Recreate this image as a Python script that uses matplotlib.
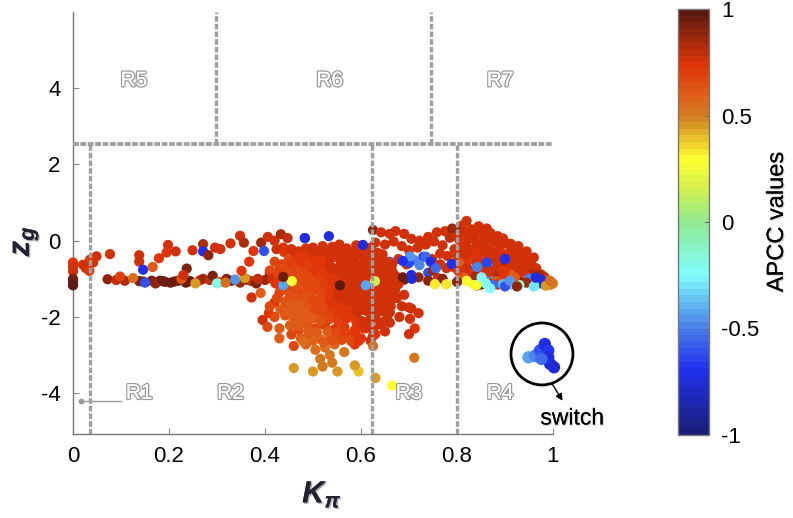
import matplotlib
matplotlib.use("Agg")
import matplotlib.pyplot as plt
import matplotlib.patheffects as pe
from matplotlib.colors import LinearSegmentedColormap, Normalize
from matplotlib.cm import ScalarMappable

plt.rcParams['font.family'] = ['Liberation Sans', 'DejaVu Sans']
plt.rcParams['axes.unicode_minus'] = False
plt.rcParams['mathtext.fontset'] = 'custom'
plt.rcParams['mathtext.bfit'] = 'Liberation Sans:italic:bold'

# left column and the long sparse rows
left_x = [0,0,0,0,0,0, .072,.09,.108,.138,.146,.164,.181,.192,.211,.219,.235,.244,.264,.271,.285,.291,.306,.32,.33,.348,.362,.372,.40,
          .098,.125,.15,.172,.188,.203,.226,.255,.30,.318,.338,.358,.382]
left_y = [-.57,-.68,-.8,-1.0,-1.08,-1.17, -1.01,-1.03,-1.05,-1.06,-1.07,-1.05,-1.05,-1.08,-1.07,-1.05,-1.1,-1.06,-1.04,-1.0,-1.03,-.92,-1.08,-1.0,-1.05,-1.1,-1.02,-1.06,-1.03,
          -.94,-.98,-1.1,-1.12,-1.06,-1.1,-1.0,-1.12,-1.12,-1.1,-1.02,-.98,-1.12]
left_c = [.72,.75,.78,.92,.95,.98, .88,.8,.82,.92,.95,.93,.95,.9,.95,.92,.96,.95,.78,.85,.8,.92,.6,.9,.95,.85,.95,.8,.85,
          .7,.55,-.6,.9,.95,.95,.62,.45,-.2,.55,-.45,.45,.92]

top_x = [.049,.042,.035,.021,.027,.034,.077,.138,.138,.146,.166,.179,.198,.195,.214,.249,.271,.271,.282,.296,.307,.328,.348,.356,.376,.367,.351,.392,.398,.406,.42,.433,.447,.483,.499,.438,.424,.459,.237,.23,.372,.391,.41,.385,.408,.42,.436]
top_y = [-.41,-.57,-.5,-.63,-.72,-.79,-.35,-.38,-.55,-.76,-.69,-.46,-.11,-.31,-.28,-.25,-.09,-.28,-.38,-.18,-.22,-.07,.13,-.05,-.27,-.55,-.79,-.05,-.27,.1,0,.17,.07,.07,-.24,-.18,-.22,-.38,-.73,-.9,-1.49,-1.37,-.85,-1.0,-1.9,-1.62,-1.1]
top_c = [.75,.75,.72,.75,.75,.72,.78,.78,.78,-.7,.62,.72,.78,.72,.75,.78,.82,-.7,.88,.78,.75,.78,.78,.82,.72,.72,.72,.85,-.6,.78,.75,.82,.8,-.75,-.7,.72,.78,.88,.92,.75,.78,.6,.88,.8,.72,.78,.85]

# dense blob around Kpi = 0.55
blob_x = [.44,.455,.47,.485,.50,.52,.54,.555,.57,.59,.605,.62,.635,
          .42,.435,.45,.468,.482,.498,.512,.528,.545,.56,.575,.592,.61,.625,.64,.655,
          .41,.43,.448,.462,.478,.492,.508,.525,.54,.558,.572,.588,.604,.618,.634,.648,.665,
          .415,.44,.455,.472,.488,.503,.518,.535,.55,.566,.582,.598,.614,.63,.645,.66,
          .43,.45,.466,.482,.496,.512,.53,.546,.562,.578,.594,.61,.626,.642,.668,
          .43,.448,.464,.48,.498,.514,.532,.548,.565,.58,.597,.612,.628,.645,.671,.69,.70,
          .425,.445,.46,.478,.495,.51,.528,.544,.56,.578,.594,.61,.63,.648,.668,.685,.705,.72,
          .41,.432,.45,.468,.484,.502,.52,.538,.555,.572,.59,.606,.624,.642,.66,.68,.702,.712,
          .395,.42,.442,.46,.476,.492,.51,.527,.546,.563,.58,.6,.62,.64,.66,.70,
          .405,.43,.452,.47,.49,.506,.525,.545,.565,.586,.61,.63,.65,
          .43,.455,.475,.495,.515,.535,.553,.575,.6,.625,.62,
          .46,.485,.505,.525,.545,.565,.587,.625,.711,
          .46,.50,.515,.535,.551,.595,.587,.63,.665,.54,.52]
blob_y = [-.3,-.22,-.28,-.2,-.18,-.14,-.16,-.1,-.2,-.12,-.22,-.18,-.32,
          -.55,-.62,-.48,-.42,-.5,-.38,-.44,-.36,-.42,-.34,-.46,-.38,-.42,-.5,-.44,-.56,
          -.78,-.72,-.8,-.66,-.74,-.6,-.68,-.58,-.7,-.56,-.66,-.6,-.7,-.62,-.74,-.68,-.8,
          -1.0,-.95,-.88,-.92,-.84,-.9,-.8,-.86,-.92,-.82,-.88,-.8,-.9,-.86,-.98,-.92,
          -1.15,-1.08,-1.12,-1.02,-1.1,-1.0,-1.06,-1.14,-1.02,-1.1,-1.04,-1.12,-1.06,-1.14,-1.18,
          -1.36,-1.28,-1.34,-1.24,-1.32,-1.22,-1.3,-1.2,-1.34,-1.24,-1.3,-1.22,-1.34,-1.28,-1.3,-1.42,-1.75,
          -1.5,-1.58,-1.46,-1.54,-1.44,-1.56,-1.48,-1.58,-1.46,-1.54,-1.44,-1.56,-1.5,-1.6,-1.52,-1.72,-1.78,-1.9,
          -1.72,-1.8,-1.68,-1.76,-1.66,-1.78,-1.7,-1.8,-1.68,-1.76,-1.7,-1.82,-1.72,-1.8,-1.88,-2.0,-2.05,-2.3,
          -2.08,-2.0,-1.96,-2.06,-1.92,-2.02,-1.94,-2.04,-1.96,-2.02,-1.98,-2.1,-2.02,-2.2,-2.15,-2.45,
          -2.26,-2.3,-2.22,-2.34,-2.24,-2.3,-2.22,-2.32,-2.26,-2.36,-2.3,-2.45,-2.38,
          -2.56,-2.46,-2.56,-2.5,-2.58,-2.48,-2.58,-2.52,-2.56,-2.5,-2.62,
          -2.76,-2.72,-2.86,-2.8,-2.72,-2.92,-2.72,-2.76,-3.07,
          -3.34,-3.43,-3.1,-3.0,-3.43,-3.43,-3.27,-3.6,-3.8,-3.2,-3.3]
blob_c = [.72,.75,.76,.75,.76,.75,.76,.75,.76,.75,.76,.75,.76,
          .68,.7,.68,.72,.68,.75,.72,.75,.72,.75,.72,.75,.72,.76,.75,.72,
          .66,.68,.68,.68,.66,.68,.7,.72,.72,.75,.72,.75,.72,.75,.72,.75,.76,
          .75,.66,.64,.66,.68,.66,.7,.72,.72,.75,.72,.75,.72,.75,.76,.72,
          .75,.66,.66,.64,.68,.68,.72,.72,.74,.75,.72,.75,.72,.72,.76,
          .68,.64,.66,.68,.66,.68,.7,.72,.75,.72,.75,.72,.75,.72,.76,.75,.75,
          .66,.62,.66,.64,.68,.66,.7,.72,.72,.75,.72,.75,.72,.75,.72,.75,.76,.75,
          .66,.62,.64,.66,.66,.66,.68,.7,.72,.75,.72,.75,.72,.75,.76,.75,.76,.72,
          .75,.66,.64,.62,.66,.66,.64,.68,.7,.72,.7,.75,.72,.75,.76,.75,
          .66,.6,.62,.66,.64,.68,.7,.72,.72,.7,.72,.72,.75,
          .62,.68,.6,.66,.58,.62,.72,.62,.72,.72,.75,
          .68,.58,.56,.54,.58,.52,.72,.54,.5,
          .46,.46,.52,.52,.46,.38,.46,.44,.3,.5,.5]

# extra fill points for the crowded core of the blob
core_x = [.48,.51,.53,.552,.58,.60,.622,.645,
          .452,.475,.50,.518,.537,.563,.585,.607,.63,.652,
          .44,.463,.487,.51,.533,.552,.574,.596,.618,.64,.66,
          .428,.458,.477,.503,.52,.542,.565,.585,.606,.628,.65,
          .44,.468,.49,.515,.538,.556,.578,.602,.622,.638,.656,
          .422,.456,.474,.505,.524,.55,.572,.59,.616,.636,.66,
          .438,.47,.49,.506,.522,.54,.556,.572,.588,.602,.62,.64,.655,
          .452,.472,.488,.517,.536,.553,.57,.59,.604,.618,.636,
          .442,.462,.48,.5,.518,.534,.55,.568,.584,.6,.616,.634,.65,
          .455,.474,.49,.508,.524,.54,.558,.574,.59,.608,.626,.644,
          .45,.47,.486,.506,.522,.54,.556,.574,.592,.612,.63,
          .46,.48,.5,.516,.534,.552,.57,.59,.606,.62,
          .47,.49,.508,.53,.55,.568,.588,.605,
          .48,.5,.522,.54,.56,.58,.596,
          .645,.665,.655,.672,.66,.678,.648,.668,.655,.675,.65,.662,.64,.655,.63,.648,.61,.625,.59]
core_y = [-.38,-.3,-.28,-.24,-.3,-.3,-.34,-.36,
          -.56,-.54,-.5,-.52,-.46,-.48,-.5,-.52,-.56,-.6,
          -.72,-.78,-.68,-.72,-.66,-.74,-.68,-.76,-.7,-.78,-.7,
          -.88,-.92,-.86,-.82,-.92,-.84,-.92,-.82,-.94,-.82,-.9,
          -1.02,-1.0,-.96,-1.02,-.98,-1.04,-.98,-1.02,-.98,-1.06,-1.02,
          -1.12,-1.18,-1.16,-1.14,-1.18,-1.08,-1.18,-1.12,-1.18,-1.1,-1.06,
          -1.28,-1.24,-1.32,-1.22,-1.3,-1.24,-1.3,-1.22,-1.3,-1.24,-1.3,-1.2,-1.24,
          -1.42,-1.4,-1.46,-1.38,-1.42,-1.38,-1.44,-1.36,-1.44,-1.38,-1.42,
          -1.6,-1.52,-1.6,-1.56,-1.6,-1.54,-1.6,-1.52,-1.6,-1.52,-1.62,-1.56,-1.62,
          -1.7,-1.68,-1.74,-1.7,-1.76,-1.68,-1.76,-1.66,-1.74,-1.66,-1.76,-1.7,
          -1.88,-1.86,-1.9,-1.84,-1.92,-1.86,-1.92,-1.84,-1.88,-1.84,-1.94,
          -2.04,-2.08,-2.04,-2.1,-2.06,-2.1,-2.04,-2.12,-2.14,-2.1,
          -2.24,-2.38,-2.4,-2.38,-2.42,-2.4,-2.42,-2.3,
          -2.64,-2.62,-2.66,-2.62,-2.6,-2.64,-2.62,
          -.5,-.62,-.78,-.92,-1.02,-1.14,-1.25,-1.3,-1.42,-1.5,-1.62,-1.72,-1.85,-1.96,-2.0,-2.12,-2.25,-2.34,-2.3]
core_c = [.74,.75,.76,.76,.76,.76,.76,.75,
          .7,.72,.74,.74,.75,.76,.76,.76,.76,.75,
          .68,.68,.7,.72,.75,.76,.76,.76,.76,.76,.75,
          .7,.66,.68,.72,.74,.75,.76,.76,.76,.76,.75,
          .66,.66,.68,.7,.74,.75,.76,.76,.76,.76,.76,
          .72,.66,.66,.68,.7,.74,.76,.76,.76,.76,.76,
          .66,.64,.66,.68,.7,.74,.75,.76,.76,.76,.76,.76,.76,
          .64,.66,.64,.68,.72,.75,.76,.76,.76,.76,.76,
          .64,.64,.64,.66,.68,.72,.75,.75,.76,.76,.76,.76,.76,
          .62,.62,.64,.66,.68,.72,.74,.75,.75,.76,.76,.76,
          .62,.62,.62,.66,.68,.7,.74,.74,.75,.75,.76,
          .6,.62,.62,.64,.66,.7,.72,.74,.75,.76,
          .6,.6,.62,.62,.66,.7,.72,.74,
          .56,.58,.6,.64,.66,.68,.72,
          .76,.76,.75,.76,.76,.75,.76,.76,.75,.76,.76,.75,.76,.76,.75,.76,.75,.76,.72]

# right triangle of points, Kpi 0.62 to 1
tri_x = [.625,.642,.66,.672,.69,.705,.722,.74,.758,.775,.79,
         .63,.65,.668,.685,.70,.718,.735,.752,.77,.785,
         .64,.66,.678,.695,.71,.73,.748,.765,.78,.795,
         .628,.645,.665,.69,.705,.72,.74,.76,.778,.79,
         .82,.81,.80,.83,.845,.862,.85,.835,.815,.87,.885,.875,.858,.84,.82,.805,
         .895,.905,.89,.875,.86,.845,.825,.81,.915,.925,.91,.895,.88,.865,.85,.83,.815,.80,
         .935,.945,.93,.915,.90,.885,.87,.855,.84,.82,.805,
         .955,.965,.95,.935,.92,.905,.89,.875,.86,.845,.825,.81,
         .975,.982,.97,.955,.94,.925,.91,.895,.88,.865,.85,.83,.815,
         .99,.995,.985,.97,.955,.94,.925,.91,.895,.88,.865,.85,.835,.82,.805,
         .70,.722,.735,.75,.745,.765,.79,
         .80,.815,.83,.848,.866,.88,.896,.912,.928,.945,.96,
         .81,.826,.842,.858,.872,.89,.906,.92,.936,.95,
         .802,.82,.836,.852,.868,.884,.90,.916,.93,
         .754,.778,.841,.82,.835,.85,.87,.885,.905,.92,.935,.95,.965,.98,.995,1.0,.975,.96,.945,.93,.915,.895,.875,.86,.90,.925,.96,.985,
         .74,.77,.80,.84,.866,.895,.92]
tri_y = [.28,.22,.18,.25,.18,.05,.0,.1,.22,.25,.32,
         -.05,-.1,-.02,-.14,-.25,-.18,-.1,-.02,-.12,.08,
         -.42,-.55,-.48,-.62,-.5,-.42,-.48,-.34,-.4,-.22,
         -.72,-.95,-.85,-1.02,-.9,-.96,-.84,-.98,-.72,-.62,
         .52,.4,.28,.3,.38,.32,.18,.12,.15,.2,.12,.02,.04,-.05,-.02,.02,
         .02,-.08,-.15,-.12,-.18,-.16,-.22,-.2,-.18,-.24,-.3,-.34,-.3,-.36,-.34,-.38,-.42,-.4,
         -.4,-.5,-.5,-.48,-.52,-.5,-.54,-.52,-.56,-.58,-.6,
         -.62,-.72,-.7,-.68,-.68,-.72,-.7,-.72,-.74,-.72,-.76,-.78,
         -.88,-.95,-.9,-.88,-.86,-.9,-.88,-.9,-.92,-.88,-.92,-.9,-.94,
         -1.1,-1.14,-1.05,-1.02,-1.0,-1.06,-1.02,-1.06,-1.02,-1.06,-1.02,-1.05,-1.0,-1.04,-1.0,
         -.58,-.64,-.42,-.78,-.55,-.62,-.68,
         .1,.24,.18,.22,.08,.02,.06,-.08,-.14,-.28,-.44,
         -.3,-.24,-.3,-.26,-.42,-.38,-.44,-.4,-.58,-.64,
         -.78,-.72,-.82,-.66,-.8,-.66,-.78,-.58,-.82,
         -1.14,-1.14,-1.17,-1.05,-1.15,-1.15,-1.12,-1.15,-1.12,-.98,-1.1,-1.0,-1.16,-1.14,-1.15,-1.12,-1.02,-1.16,-1.1,-1.16,-1.15,-1.14,-1.16,-1.12,-1.2,-1.18,-1.2,-1.18,
         -1.05,-1.0,-1.08,-.92,-.82,-.78,-.96]
tri_c = [.88,.76,.75,.76,.76,.75,.76,.76,.75,.76,.85,
         .75,.76,.75,.75,.76,.75,.75,.76,.75,.8,
         .76,-.55,.75,.76,-.5,-.65,.75,.76,.76,.75,
         .76,.76,.75,.92,-.7,.88,-.6,.76,.76,.72,
         .76,.76,.85,.76,.76,.76,.72,.75,.76,.76,.75,.72,.76,.75,.76,.72,
         .76,.75,.76,.72,.76,.75,.72,.76,.76,.75,.76,.72,.76,.75,.76,.72,.75,.76,
         .76,.76,.75,.76,.72,.76,.75,.72,.76,.72,.62,
         .76,.75,.76,.72,.76,.75,.85,-.5,.75,.76,-.55,.62,
         .76,.75,.85,.82,.76,.6,.62,.72,.82,.75,.76,.82,.62,
         .6,.75,.58,.76,-.65,.55,.76,-.7,.72,.6,-.45,.72,.82,.62,.6,
         -.65,-.5,-.55,.85,-.7,.76,.76,
         .76,.76,.76,.75,.76,.76,.75,.76,.76,.76,.75,
         .75,.76,.74,.76,.76,.75,.76,.76,.76,.75,
         .74,.76,.72,.76,.75,.76,.74,.76,.76,
         .32,.32,.92,.3,.28,.92,.76,.76,.55,-.45,.92,-.5,-.3,-.7,.55,.5,-.75,-.2,.85,-.2,-.35,-.4,-.55,-.25,-.6,.35,-.3,.45,
         .88,.9,.9,.85,.76,.72,.6]

# odd coloured points that sit on top of the clusters
marks_x = [.483,.533,.604,.438,.61,.456,.556,.438,.702,.687,.687,.706,.629,.756,.789,.842,.862,.90,.91,.964,.841,.754,.778,.851,.869,.925,.994]
marks_y = [.07,.12,-.11,-1.17,-1.17,-1.06,-1.17,-.95,-.41,-.53,-.96,-1.0,-1.06,-.72,-.61,-.69,-.57,-.48,-1.05,-.97,-1.16,-1.14,-1.14,-.96,-1.25,-1.2,-1.05]
marks_c = [-.75,-.75,-.75,-.42,-.42,.3,.98,.95,-.45,-.7,.95,-.72,.15,-.55,-.7,-.5,-.65,-.7,-.45,-.75,.3,.32,.32,-.25,-.25,.9,.55]

# points inside the magnified circle
switch_x = [.949,.9625,.973,.983,.99,.99,.994,1.002,.976]
switch_y = [-3.06,-3.02,-2.88,-2.71,-2.88,-3.06,-3.23,-3.32,-3.1]
switch_c = [-.42,-.5,-.6,-.72,-.68,-.72,-.75,-.78,-.55]

x_ticks = [0,.2,.4,.6,.8,1]
x_labels = ['0','0.2','0.4','0.6','0.8','1']
y_ticks = [-4,-2,0,2,4]
cbar_ticks = [-1,-.5,0,.5,1]
cbar_labels = ['-1','-0.5','0','0.5','1']
vlines_low = [.035,.623,.8]
vlines_high = [.298,.746]
regions = [('R5',.127,4.2),('R6',.535,4.2),('R7',.89,4.2),('R1',.138,-4.0),('R2',.328,-4.0),('R3',.70,-4.0),('R4',.89,-4.0)]

apcc_stops = [(0,'#1a1f7a'),(.15,'#2030f0'),(.25,'#4a80e8'),(.375,'#80ffff'),(.5,'#90e890'),(.575,'#d0f050'),(.65,'#ffff30'),
              (.75,'#d08020'),(.8,'#e0601a'),(.875,'#e03408'),(1,'#5a1a10')]
apcc = LinearSegmentedColormap.from_list('apcc', apcc_stops, N=64)
norm = Normalize(-1,1)

fig = plt.figure(figsize=(7.93,5.18), dpi=100)
ax = fig.add_axes([73/793, 84/518, 480/793, 422/518])
ax.set_xlim(0,1)
ax.set_ylim(-5.07,6.0)

for xs,ys,cs in [(left_x,left_y,left_c),(top_x,top_y,top_c),(tri_x,tri_y,tri_c),(blob_x,blob_y,blob_c),(core_x,core_y,core_c),(marks_x,marks_y,marks_c)]:
	ax.scatter(xs, ys, c=cs, cmap=apcc, norm=norm, s=54, linewidths=0, clip_on=False, zorder=3)
ax.scatter(switch_x, switch_y, c=switch_c, cmap=apcc, norm=norm, s=80, linewidths=0, clip_on=False, zorder=3)

dash = dict(color='#a0a0a0', lw=2.4, ls=(0,(1.7,.6)), zorder=4)
for v in vlines_low:
	ax.plot([v,v], [-5.07,2.5], **dash)
for v in vlines_high:
	ax.plot([v,v], [2.55,6.0], **dash)
ax.plot([0,1.005], [2.53,2.53], color='#a0a0a0', lw=2.8, ls=(0,(1.5,.4)), zorder=4)

for s in ['top','right']:
	ax.spines[s].set_visible(False)
for s in ['left','bottom']:
	ax.spines[s].set_color('#777777')
	ax.spines[s].set_linewidth(1)
ax.set_xticks(x_ticks)
ax.set_xticklabels(x_labels)
ax.set_yticks(y_ticks)
ax.tick_params(direction='in', length=4, color='#888888', labelsize=16, pad=9)

hollow = [pe.withStroke(linewidth=2, foreground='#999999'), pe.Normal()]
for name,rx,ry in regions:
	ax.text(rx, ry, name, color='white', fontsize=15, ha='center', va='center', path_effects=hollow, zorder=5)

shadow = [pe.withSimplePatchShadow(offset=(1,-1), shadow_rgbFace='#555555', alpha=.5), pe.Normal()]
fig.text(322/793, 1-494/518, r'$\mathbfit{K}_{\mathbfit{\pi}}$', fontsize=22, color='#222233', ha='center', va='center', path_effects=shadow)
fig.text(25/793, 1-241/518, r'$\mathbfit{z}_{\mathbfit{g}}$', fontsize=22, color='#222233', ha='center', va='center', rotation=90, path_effects=shadow)

# R1 pointer, circle and switch callout
ax.plot([.017,.1], [-4.2,-4.2], color='#999999', lw=1, zorder=2)
ax.scatter([.017], [-4.2], s=10, color='#999999', zorder=2)
ax.scatter([.977], [-2.97], s=1990, facecolors='none', edgecolors='black', linewidths=2, clip_on=False, zorder=5)
ax.annotate('', xy=(1.02,-4.2), xytext=(.998,-3.75), arrowprops=dict(arrowstyle='-|>', color='black', lw=1, shrinkA=0, shrinkB=0), annotation_clip=False)
soft = [pe.withSimplePatchShadow(offset=(1,-1), alpha=.15), pe.Normal()]
ax.text(1.04, -4.65, 'switch', fontsize=16.5, ha='center', va='center', path_effects=soft, clip_on=False)

# colorbar
cax = fig.add_axes([678/793, 83/518, 31/793, 426/518])
cb = fig.colorbar(ScalarMappable(norm=norm, cmap=apcc), cax=cax)
cb.set_ticks(cbar_ticks)
cb.set_ticklabels(cbar_labels)
cb.ax.tick_params(direction='in', length=3, color='#666666', labelsize=16, pad=9)
cb.outline.set_edgecolor('#777777')
cb.outline.set_linewidth(1)
fig.text(777/793, 1-222/518, 'APCC values', fontsize=17, rotation=90, ha='center', va='center', path_effects=soft)

fig.savefig('out.png', dpi=100)
